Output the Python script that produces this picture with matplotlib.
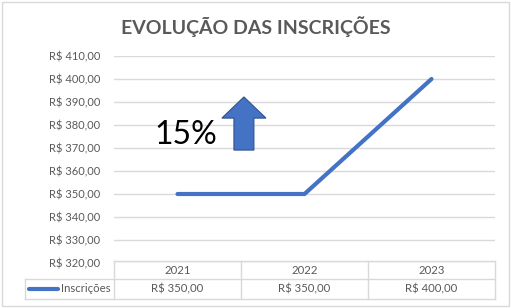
import matplotlib.pyplot as plt
from matplotlib.patches import Rectangle, FancyArrow
import matplotlib.transforms as mtransforms

anos = ["2021", "2022", "2023"]
inscricoes = [350, 350, 400]
yticks = list(range(320, 420, 10))
serie = "Inscrições"
titulo = "EVOLUÇÃO DAS INSCRIÇÕES"


def brl(v):
    return "R$ {:.2f}".format(v).replace(".", ",")


plt.rcParams['font.family'] = ['Lato', 'DejaVu Sans']
cinza = "#595959"
azul = "#4472C4"

fig = plt.figure(figsize=(5.11, 3.08), dpi=100)
fig.patches.append(Rectangle((0.004, 0.008), 0.992, 0.985, transform=fig.transFigure,
                             fill=False, edgecolor="#D9D9D9", linewidth=1))

ax = fig.add_axes([114 / 511, 1 - 263 / 308, 381 / 511, 207 / 308])
x = list(range(len(anos)))
ax.plot(x, inscricoes, color=azul, linewidth=3, solid_capstyle="round")
ax.set_xlim(-0.5, len(anos) - 0.5)
ax.set_ylim(320, 410)
ax.set_yticks(yticks)
ax.set_yticklabels([brl(v) for v in yticks], color=cinza, fontsize=8)
ax.set_xticks([])
ax.tick_params(axis="y", length=0, pad=10)
ax.grid(axis="y", color="#D9D9D9", linewidth=1)
for s in ax.spines.values():
    s.set_visible(False)
ax.set_axisbelow(True)

fig.text(0.5, 1 - 27 / 308, titulo, ha="center", va="center",
         fontsize=14, fontweight="bold", color=cinza)

# seta e texto
ax.add_patch(FancyArrow(0.523, 369.1, 0, 23.1, width=0.157, head_width=0.347,
                        head_length=9.2, length_includes_head=True,
                        facecolor=azul, edgecolor="#2F528F", linewidth=0.8))
ax.text(0.31, 375.5, "15%", ha="right", va="center", fontsize=23, color="black")

# tabela de dados
tr = mtransforms.blended_transform_factory(ax.transData, fig.transFigure)
y_top, y_mid, y_bot = 1 - 261 / 308, 1 - 279 / 308, 1 - 299 / 308
lc = "#D9D9D9"
kw = dict(color=lc, linewidth=1, clip_on=False)
for xb in [-0.5, 0.5, 1.5, 2.5]:
    ax.plot([xb, xb], [y_top, y_bot], transform=tr, **kw)
ax.plot([-0.5, 2.5], [y_top, y_top], transform=tr, **kw)
x_leg = -0.5 - (114 - 25) / 127
ax.plot([x_leg, 2.5], [y_mid, y_mid], transform=tr, **kw)
ax.plot([x_leg, 2.5], [y_bot, y_bot], transform=tr, **kw)
ax.plot([x_leg, x_leg], [y_mid, y_bot], transform=tr, **kw)
for i, (a, v) in enumerate(zip(anos, inscricoes)):
    ax.text(i, (y_top + y_mid) / 2, a, transform=tr, ha="center", va="center",
            fontsize=8.2, color=cinza)
    ax.text(i, (y_mid + y_bot) / 2, brl(v), transform=tr, ha="center", va="center",
            fontsize=8.2, color=cinza)
ym = (y_mid + y_bot) / 2
ax.plot([x_leg + 0.03, x_leg + 0.26], [ym, ym], transform=tr, color=azul,
        linewidth=3, solid_capstyle="round", clip_on=False)
ax.text(x_leg + 0.28, ym, serie, transform=tr, ha="left", va="center",
        fontsize=8.2, color=cinza)

fig.savefig("out.png", dpi=100)
